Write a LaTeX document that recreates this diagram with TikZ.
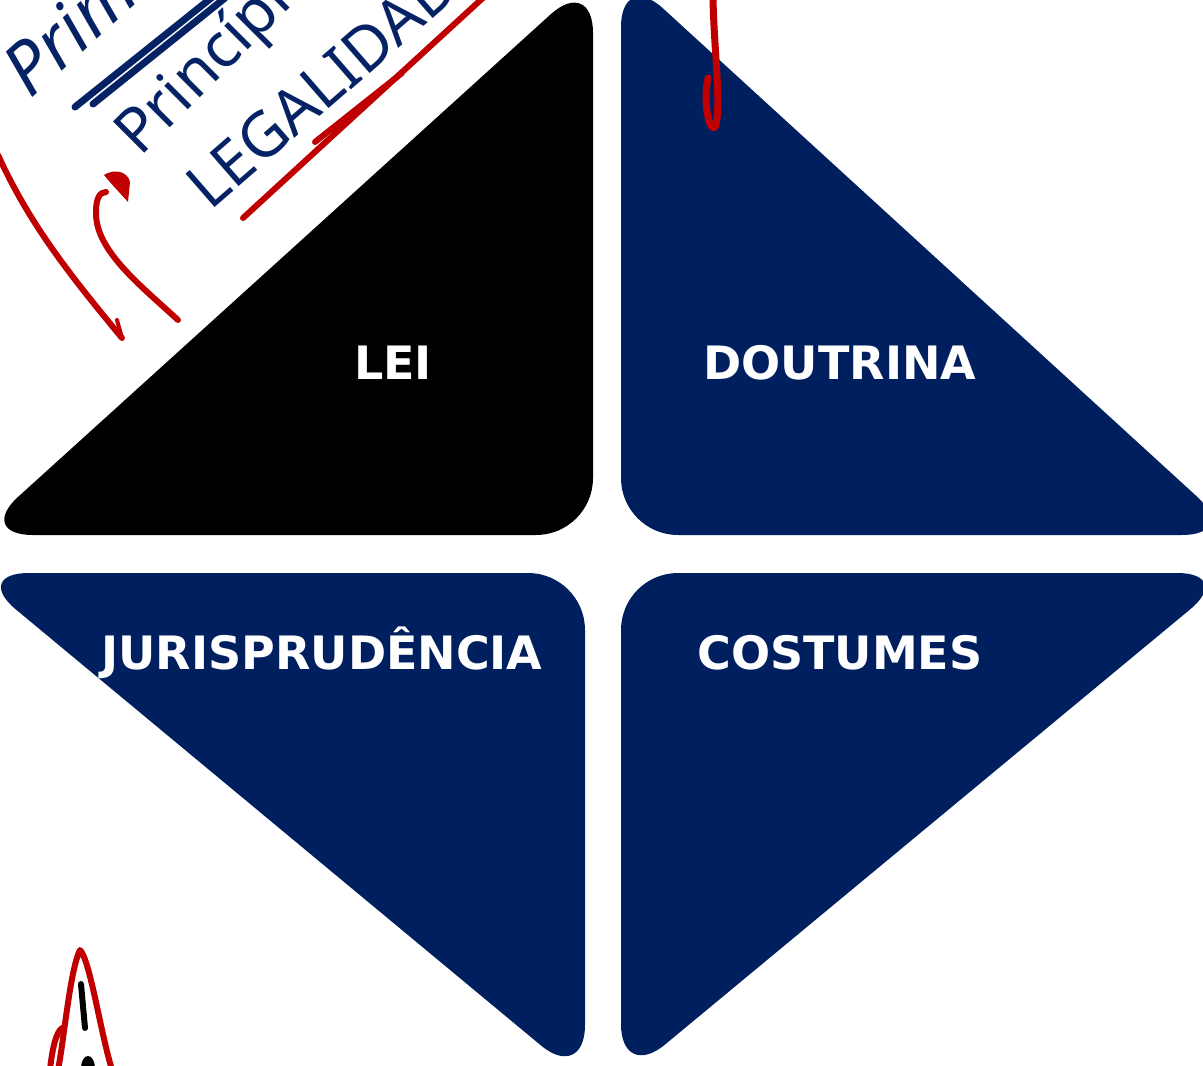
\documentclass[tikz,border=0pt]{standalone}
\usepackage{fontspec}
\setmainfont{DejaVu Sans}
\newfontfamily\handfont{Noto Sans}
\usetikzlibrary{arrows.meta}
\definecolor{navy}{RGB}{0,31,95}
\definecolor{inkred}{RGB}{192,0,0}
\definecolor{inknavy}{RGB}{5,35,100}
\tikzset{
  tri/.style={rounded corners=57pt},
  label/.style={text=white, font=\bfseries\fontsize{46}{50}\selectfont, inner sep=0pt},
  hand/.style={text=inknavy, font=\handfont\fontsize{62}{66}\selectfont, inner sep=0pt, anchor=base west},
  redink/.style={draw=inkred, line width=6pt, line cap=round, line join=round},
  navyink/.style={draw=inknavy, line width=7pt, line cap=round},
}
\begin{document}
\begin{tikzpicture}[x=1pt,y=-1pt]
\useasboundingbox (0,0) rectangle (1203,1066);
\clip (0,0) rectangle (1203,1066);
\fill[white] (0,0) rectangle (1203,1066);

% triangles
\fill[black, tri] (-24,535) -- (593,535) -- (593,-24) -- cycle;
\fill[navy, tri] (621,-30) -- (621,535) -- (1239,535) -- cycle;
\fill[navy, tri] (-28,573) -- (585,573) -- (585,1082) -- cycle;
\fill[navy, tri] (621,573) -- (1234,573) -- (621,1081) -- cycle;

% labels
\node[label] (lei) at (393,363) {LEI};
\node[label] (dout) at (840,363) {DOUTRINA};
\node[label] (juris) at (322,653) {JURISPRUDÊNCIA};
\node[label] (cost) at (840,653) {COSTUMES};

% handwriting
\node[hand, rotate=42, font=\handfont\itshape\fontsize{72}{76}\selectfont] (prim) at (30,100) {Primários};
\node[hand, rotate=45] (princ) at (140,158) {Princípio};
\node[hand, rotate=41] (leg) at (210,212) {LEGALIDADE};
\draw[navyink] (75,107) -- (215,-5);
\draw[navyink] (93,104) -- (225,-2);

% red ink
\draw[redink] (243,218) -- (485,-4);
\draw[redink] (315,142) -- (402,73);
\draw[redink] (-2,155) .. controls (30,225) and (70,275) .. (122,338);
\draw[redink, line width=4pt] (122,338) -- (117,320);
\draw[redink] (178,320) .. controls (140,285) and (95,250) .. (96,212) .. controls (96,198) and (100,192) .. (106,192);
\fill[inkred] (104,175) .. controls (115,168) and (128,172) .. (130,182) -- (128,202) .. controls (122,195) and (112,185) .. cycle;
\draw[redink, line width=7pt] (713,-2) .. controls (714,50) and (721,100) .. (716,125) .. controls (711,138) and (702,105) .. (708,78);
\draw[redink] (58,1070) .. controls (64,1040) and (70,970) .. (80,950) .. controls (90,960) and (100,1030) .. (112,1070);
\draw[redink] (50,1070) .. controls (52,1050) and (56,1032) .. (62,1028);
\draw[draw=black, line width=6pt, line cap=round] (81,984) -- (85,1028);
\fill[black] (88,1068) ellipse (7pt and 12pt);
\end{tikzpicture}
\end{document}
